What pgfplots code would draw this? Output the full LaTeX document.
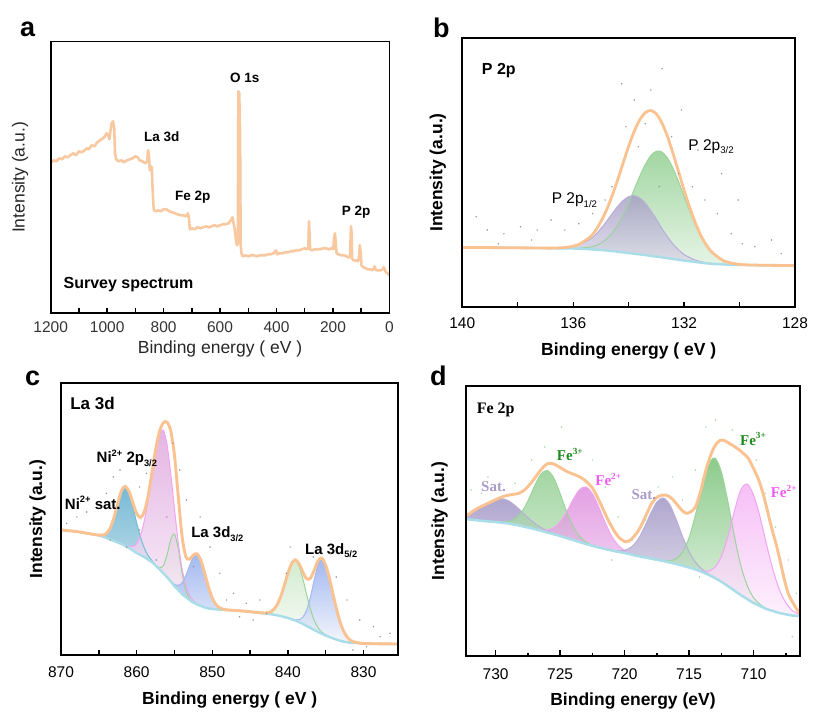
\documentclass[border=0pt]{standalone}
\usepackage{graphicx}
\usepackage{fontspec}
\setmainfont{Liberation Sans}
\newfontfamily\tms{Liberation Serif}
\usepackage{pgfplots}
\pgfplotsset{compat=1.18}
\usepackage{pgfplotstable}

% line colours
\definecolor{envc}{HTML}{FBC291}
\definecolor{survc}{HTML}{F8C8A0}
\definecolor{bkgc}{HTML}{A9DDE8}
% component colours (top of gradient / outline)
\definecolor{grnT}{HTML}{8ACC8A}
\definecolor{grnL}{HTML}{9AD49A}
\definecolor{purT}{HTML}{A59CC6}
\definecolor{purL}{HTML}{B8AED8}
\definecolor{tealT}{HTML}{55A8CA}
\definecolor{tealL}{HTML}{6CC0D2}
\definecolor{pinkT}{HTML}{DDA2DC}
\definecolor{pinkL}{HTML}{F2A4F2}
\definecolor{bluT}{HTML}{8CA7EC}
\definecolor{bluL}{HTML}{A4B8F0}
\definecolor{lgrT}{HTML}{C9E6C4}
\definecolor{satT}{HTML}{9C90C2}
\definecolor{fgrT}{HTML}{6FBE6F}
\definecolor{fpkT}{HTML}{DC88DC}
\definecolor{fpk2T}{HTML}{F4B0F4}
\definecolor{txtgrn}{HTML}{1F8A1F}
\definecolor{txtpink}{HTML}{F05AF0}
\definecolor{txtsat}{HTML}{A99CCB}
\definecolor{rawg}{HTML}{8A8A8A}
\definecolor{rawd}{HTML}{9CD39C}

\newcommand\fs[1]{\fontsize{#1}{#1}\selectfont}
\newcommand\subr[1]{\raisebox{-0.25em}{\scalebox{0.62}{#1}}}
\newcommand\supr[1]{\raisebox{0.42em}{\scalebox{0.62}{#1}}}

% binding energy runs right-to-left: the fitted panels plot -E
\pgfplotsset{
  xps/.style={
    scale only axis, anchor=south west, axis on top,
    axis line style={line width=1.8pt},
    tick align=inside, xtick pos=left, ytick=\empty,
    tick style={black, line width=1.4pt},
    major tick length=5pt, minor tick length=5pt,
    tick label style={font=\fs{15.5}},
    label style={font=\fs{17.5}},
    xticklabel style={anchor=center},
  },
  comp/.style 2 args={draw=none, smooth, top color=#1, bottom color=#2, fill opacity=0.8},
  cover/.style={draw=none, smooth, fill=white},
  raw/.style={only marks, mark=*, mark size=0.55pt, #1, opacity=0.75},
}

% P 2p fit: background and two components
\pgfplotstableread{
E B G1 G2
140 59.3 0 0
139 59.1 0 0
138 58.9 0 0
137 58.6 0 0
136.6 58.4 0.3 0
136.2 58.3 1.1 0.1
135.8 58.0 3.7 0.6
135.4 57.4 9.9 2.2
135.2 57.0 14.9 4.0
135.0 56.7 21.5 7.0
134.8 56.2 29.0 11.4
134.6 55.6 37.3 17.8
134.4 55.0 45.1 26.4
134.2 54.3 51.9 37.5
134.0 53.6 56.4 50.4
133.8 53.0 58.0 64.3
133.6 52.3 56.4 78.2
133.4 51.6 51.9 90.6
133.2 50.8 45.1 100.3
133.0 50.1 37.3 105.4
132.8 49.3 29.0 105.4
132.6 48.5 21.5 100.3
132.4 47.7 14.9 90.6
132.2 46.9 9.9 78.2
132.0 46.1 6.1 64.3
131.8 45.4 3.7 50.4
131.6 44.7 2.0 37.5
131.4 44.0 1.1 26.4
131.2 43.4 0.6 17.8
131.0 42.9 0.3 11.4
130.6 42.3 0 4.0
130.2 41.9 0 1.2
129.8 41.7 0 0.2
129.0 41.4 0 0
128.0 41.2 0 0
}\tabB

% P 2p raw counts
\pgfplotstableread{
E Y
132.8 238
133.2 216.7
133.8 206.7
134.1 180
133.4 183
132.45 170
132.2 133
131.7 120
131.25 106.7
130.8 93
130.3 73
129.9 63
129.45 60
128.85 66.7
128.5 53
134.6 120
134.85 106.7
135.3 93
135.8 83
136.3 76.7
136.8 86.7
137.3 76.7
137.9 80
138.5 73
139.1 76.7
139.5 90
138.7 63
137.5 66.7
132.9 120
133.65 160
132.1 196.7
134.25 223
131.5 156.7
130.65 133
130.05 106.7
}\rawB

% La 3d fit
\pgfplotstableread{
E B T P Gn Bl G5 B5
870 125 0 0 0 0 0 0
868 123.5 0 0 0 0 0 0
866 121 0 0 0 0 0 0
865.5 120.3 0.1 0 0 0 0 0
865 119.5 0.4 0 0 0 0 0
864.5 118.5 1.4 0 0 0 0 0
864 117 4.5 0 0 0 0 0
863.5 115.5 11.3 0 0 0 0 0
863 114 23.3 0 0 0 0 0
862.5 112.5 39.0 0 0 0 0 0
862 111 53.2 0.2 0 0 0 0
861.5 109 59 0.56 0 0 0 0
861 107 54.8 1.6 0 0 0 0
860.5 104.5 43.9 4.1 0 0 0 0
860 102 30.3 9.4 0 0 0 0
859.5 100 18.1 19.3 0 0 0 0
859 98 9.3 35.6 0 0 0 0
858.5 95.5 4.1 58.8 0 0 0 0
858 93 1.6 86.8 0 0 0 0
857.5 89.5 0.5 114.5 0.2 0 0 0
857 86 0.15 135.3 1.5 0 0 0
856.5 82 0 143 7.0 0 0 0
856 78 0 133.5 21.4 0.1 0 0
855.5 73.5 0 108.7 41.6 0.5 0 0
855 69 0 77.2 52 1.7 0 0
854.5 65 0 47.8 41.6 4.7 0 0
854 61 0 25.7 21.4 11.0 0 0
853.5 58 0 12.1 7.0 21.4 0 0
853 55 0 5.0 1.5 34.3 0 0
852.5 52.5 0 1.8 0.2 45.5 0 0
852 50.5 0 0.6 0 50 0 0
851.5 49 0 0.15 0 45.5 0 0
851 47.5 0 0 0 34.3 0 0
850.5 46.5 0 0 0 21.4 0 0
850 46 0 0 0 11.0 0 0
849.5 45.7 0 0 0 4.7 0 0
849 45.4 0 0 0 1.7 0 0
848.5 45.2 0 0 0 0.5 0 0
848 45 0 0 0 0.1 0 0
846 44 0 0 0 0 0 0
844 42.5 0 0 0 0 0 0
843.5 42 0 0 0 0 0.15 0
843 41.5 0 0 0 0 0.5 0
842.5 41 0 0 0 0 1.6 0
842 40.5 0 0 0 0 4.2 0
841.5 39.8 0 0 0 0 9.4 0
841 39 0 0 0 0 18.4 0
840.5 38 0 0 0 0 30.8 0
840 37 0 0 0 0 44.6 0
839.5 35.8 0 0 0 0 55.7 0.15
839 34.5 0 0 0 0 60 0.7
838.5 32.8 0 0 0 0 55.7 2.5
838 31 0 0 0 0 44.6 7.0
837.5 29 0 0 0 0 30.8 16.3
837 27 0 0 0 0 18.4 31.6
836.5 25 0 0 0 0 9.4 50.7
836 23 0 0 0 0 4.2 67.3
835.5 21.2 0 0 0 0 1.6 74
835 19.5 0 0 0 0 0.5 69.7
834.5 18 0 0 0 0 0.15 58.3
834 16.5 0 0 0 0 0 43.4
833.5 15.2 0 0 0 0 0 28.6
833 14 0 0 0 0 0 16.7
832.5 13.2 0 0 0 0 0 8.7
832 12.5 0 0 0 0 0 4.0
831.5 12.2 0 0 0 0 0 1.6
831 12 0 0 0 0 0 0.6
830.5 11.8 0 0 0 0 0 0.2
830 11.5 0 0 0 0 0 0
828 11.2 0 0 0 0 0 0
825.4 11 0 0 0 0 0 0
}\tabC

% La 3d raw counts
\pgfplotstableread{
E Y
869.25 131.7
867.9 138
866.6 143
864 161.7
863.1 178
862.2 185
859.6 168
858.7 181.7
858.2 195
855.2 211.7
854.3 185
853.4 155
851.6 138
850.3 108
849 81.7
847.2 61.7
845.5 51.7
843.7 55
842.8 41.7
840.2 81.7
839.7 108
836.65 98
834.4 101.7
833.6 78
832.2 55
830.5 35
828.7 28.3
827.8 18.3
826.5 21.7
829.6 8.3
831.4 5
844.6 35
846.4 38.3
848.1 55
852.5 88.3
856 138
857.4 95
859.6 125
861.3 108
863.5 115
}\rawC

% Fe 2p fit components
\pgfplotstableread{
E B S1 F3a F2a S2 F3b F2b
732.3 137 4.2 0 0 0 0 0
732 136.5 6.0 0 0 0 0 0
731.5 135.8 9.9 0 0 0 0 0
731 135 14.6 0 0 0 0 0
730.5 134.5 19.2 0 0 0 0 0
730 134 22.7 0.15 0 0 0 0
729.5 133.3 24 0.6 0 0 0 0
729 132.5 22.7 2.1 0 0 0 0
728.5 131.3 19.2 5.8 0 0 0 0
728 130 14.6 13.6 0 0 0 0
727.5 128.5 9.9 26.5 0 0 0 0
727 127 6.0 42.5 0.2 0 0 0
726.5 125.3 3.2 56.4 0.8 0 0 0
726 123.5 1.6 62 2.5 0 0 0
725.5 121.8 0.7 56.4 6.5 0 0 0
725 120 0.3 42.5 14.2 0 0 0
724.5 118 0.1 26.5 26.1 0 0 0
724 116 0 13.6 40.3 0 0 0
723.5 114 0 5.8 52.3 0 0 0
723 112 0 2.1 57 0 0 0
722.5 110.2 0 0.6 52.3 0 0 0
722 108.5 0 0.15 40.3 0 0 0
721.5 107 0 0 26.1 0 0 0
721 105.5 0 0 14.2 0.25 0 0
720.5 104.2 0 0 6.5 0.9 0 0
720 103 0 0 2.5 2.8 0 0
719.5 101.5 0 0 0.8 7.2 0 0
719 100 0 0 0.2 15.7 0 0
718.5 98.7 0 0 0 28.9 0 0
718 97.5 0 0 0 44.5 0 0
717.5 96.2 0 0 0 57.8 0.1 0
717 95 0 0 0 63 0.5 0
716.5 93.5 0 0 0 57.8 1.7 0
716 92 0 0 0 44.5 5.3 0
715.5 90.3 0 0 0 28.9 13.7 0
715 88.5 0 0 0 15.7 29.9 0
714.5 86.5 0 0 0 7.2 55 0.3
714 84 0 0 0 2.8 84.8 1.1
713.5 81.2 0 0 0 0.9 110 3.8
713 78 0 0 0 0.25 120 10.8
712.5 74.2 0 0 0 0 110 25.3
712 70 0 0 0 0 84.8 49.1
711.5 65.5 0 0 0 0 55 78.8
711 61 0 0 0 0 29.9 104.7
710.5 57 0 0 0 0 13.7 115
710 53 0 0 0 0 5.3 107.9
709.5 50 0 0 0 0 1.7 89.1
709 47 0 0 0 0 0.5 64.7
708.5 45 0 0 0 0 0.1 41.4
708 43 0 0 0 0 0 23.3
707.5 41.7 0 0 0 0 0 11.6
707 40.5 0 0 0 0 0 5.0
706.5 40.1 0 0 0 0 0 1.9
706.4 40 0 0 0 0 0 1.6
}\tabD

% Fe 2p fitted envelope
\pgfplotstableread{
E Y
732.3 140
731.5 147
730.6 152.7
729.8 157.5
729.3 160
728.7 161.5
728.2 162.7
727.7 166.7
727.2 174
726.7 182.7
726.3 189
725.9 192.7
725.4 191.5
724.9 187.7
724.4 184
723.8 181
723.4 178.5
723.1 176
722.5 168
722.0 156
721.5 142
721.0 129.3
720.5 119.5
719.95 114.3
719.5 116.5
718.9 126
718.4 139
717.9 152.7
717.4 159.5
716.8 161
716.3 157
715.8 149.3
715.5 145
715.2 142.7
714.9 144
714.5 149.3
714.1 165
713.7 186
713.2 205
712.8 213.5
712.4 216
711.8 212
711.1 206
710.4 197.7
710.2 192.7
709.6 176
709.2 159.3
708.6 128
708.2 109.3
707.4 66
706.8 50
706.4 42
}\tabDenv

% Fe 2p raw counts
\pgfplotstableread{
E Y
731.1 162.7
730.6 179
731.9 166
728.5 172.7
727.2 196
726.2 209
724.9 229
723.6 202.7
722.5 196
721.5 169
720.5 139
719.4 116
718.4 136
717.4 169
716.3 179
715.5 156
714.5 186
713.7 229
712.95 236
711.65 226
710.6 212.7
709.8 196
709.1 162.7
708.3 129
707.3 96
706.7 62.7
707.0 19.3
721 96
717.4 109
714.2 79
}\rawD

\begin{document}
\begin{tikzpicture}
\path[use as bounding box] (0,0) rectangle (813pt,713pt);

% ---------------- (a) survey spectrum ----------------
\begin{axis}[xps, x dir=reverse, at={(50.7pt,399.7pt)}, width=338.7pt, height=271.7pt,
  xmin=0, xmax=1200, ymin=0, ymax=271.7,
  xtick={0,200,400,600,800,1000,1200},
  xticklabels={0,200,400,600,800,1000,1200},
  minor xtick={100,300,500,700,900,1100},
  xticklabel style={yshift=-13.7pt, text=black!80},
  xlabel={Binding energy ( eV )}, ylabel={Intensity (a.u.)},
  xlabel style={at={(axis description cs:0.5,-0.133)}, anchor=center, text=black!85},
  ylabel style={at={(axis description cs:-0.0906,0.5)}, anchor=center, text=black!85},
]
\addplot[survc, line width=2.6pt, line join=round] coordinates {
(1198,151) (1190,153) (1180,152) (1170,155) (1160,154) (1150,157) (1140,156)
(1130,158) (1120,160) (1110,158) (1100,162) (1090,161) (1080,163) (1072,165)
(1065,164) (1055,168) (1045,167) (1035,171) (1025,173) (1015,175) (1008,177)
(1002,180) (996,178) (992,174) (988,183) (984,190) (979,192) (975,185)
(972,160) (968,154) (960,152) (950,153) (940,151) (930,153) (920,154)
(910,155) (900,157) (892,156) (885,153) (875,152) (865,150) (858,152)
(855,163) (852,158) (849,143) (845,147) (842,146) (839,125) (836,108)
(834,103) (828,102) (820,103) (810,102) (800,104) (790,104) (780,102)
(770,101) (760,100) (750,99) (740,98) (730,98) (720,97) (714,100) (710,95)
(707,84) (700,85) (690,84) (680,86) (670,85) (660,86) (650,87) (640,86)
(630,87) (620,88) (610,87) (600,88) (590,89) (580,89) (570,90) (562,93)
(556,96) (552,90) (548,84) (543,72) (540,68) (537,70) (535,222) (532,220)
(529,180) (527,68) (524,60) (520,57) (510,58) (500,57) (490,58) (480,58)
(470,57) (460,58) (450,58) (440,58) (430,59) (420,59) (410,60) (402,63)
(397,59) (390,60) (380,60) (370,61) (360,61) (350,62) (340,62) (330,63)
(320,63) (310,64) (300,65) (292,64) (287,66) (285,92) (283,80) (281,64)
(275,63) (265,64) (255,64) (245,64) (235,65) (225,65) (215,64) (205,65)
(199,64) (196,75) (193,80) (190,70) (187,60) (180,59) (170,58) (160,58)
(152,57) (146,56) (140,56) (138,70) (136,87) (134,80) (132,55) (128,53)
(120,53) (112,52) (108,55) (105,68) (102,62) (99,48) (92,46) (84,45)
(76,44) (68,44) (60,43) (55,45) (52,47) (49,44) (45,43) (38,43) (30,43)
(24,44) (20,46) (17,44) (12,41) (6,40) (0,38)};
\node[font=\fs{13.5}\bfseries] at (axis cs:512.6,235) {O 1s};
\node[font=\fs{13.5}\bfseries] at (axis cs:806.7,176.7) {La 3d};
\node[font=\fs{13.5}\bfseries] at (axis cs:696.9,116) {Fe 2p};
\node[font=\fs{13.5}\bfseries] at (axis cs:118.1,100.7) {P 2p};
\node[font=\fs{16}\bfseries, anchor=west, inner sep=0pt] at (axis cs:1155,28.3) {Survey spectrum};
\end{axis}

% ---------------- (b) P 2p ----------------
\begin{axis}[xps, at={(462.3pt,406.3pt)}, width=332.7pt, height=268.3pt,
  xmin=-140, xmax=-128, ymin=0, ymax=268.3,
  xtick={-140,-136,-132,-128}, xticklabels={140,136,132,128},
  minor xtick={-138,-134,-130},
  xticklabel style={yshift=-16.3pt},
  label style={font=\fs{17.5}\bfseries},
  xlabel={Binding energy ( eV )}, ylabel={Intensity (a.u.)},
  xlabel style={at={(axis description cs:0.5,-0.166)}, anchor=center},
  ylabel style={at={(axis description cs:-0.0736,0.5)}, anchor=center},
]
\addplot[comp={grnT}{white}, restrict x to domain=-136.2:-129.8] table[x expr=-\thisrow{E}, y expr=\thisrow{B}+\thisrow{G2}] {\tabB} \closedcycle;
\addplot[comp={purT}{white}, restrict x to domain=-137:-130.6] table[x expr=-\thisrow{E}, y expr=\thisrow{B}+\thisrow{G1}] {\tabB} \closedcycle;
\addplot[cover] table[x expr=-\thisrow{E}, y=B] {\tabB} \closedcycle;
\addplot[raw=rawg] table[x expr=-\thisrow{E}, y=Y] {\rawB};
\addplot[grnL, line width=1pt, smooth] table[x expr=-\thisrow{E}, y expr=\thisrow{B}+\thisrow{G2}] {\tabB};
\addplot[purL, line width=1pt, smooth] table[x expr=-\thisrow{E}, y expr=\thisrow{B}+\thisrow{G1}] {\tabB};
\addplot[bkgc, line width=2.4pt, smooth] table[x expr=-\thisrow{E}, y=B] {\tabB};
\addplot[envc, line width=2.8pt, smooth] table[x expr=-\thisrow{E}, y expr=\thisrow{B}+\thisrow{G1}+\thisrow{G2}] {\tabB};
\node[font=\fs{16}\bfseries, anchor=west, inner sep=0pt] at (axis cs:-139.3,235.7) {P 2p};
\node[font=\fs{15.5}, anchor=west, inner sep=0pt] at (axis cs:-131.85,160) {P 2p\subr{3/2}};
\node[font=\fs{15.5}, anchor=west, inner sep=0pt] at (axis cs:-136.78,106.7) {P 2p\subr{1/2}};
\end{axis}

% ---------------- (c) La 3d ----------------
\begin{axis}[xps, at={(61pt,58pt)}, width=337.3pt, height=271.7pt,
  xmin=-870, xmax=-825.4, ymin=0, ymax=271.7,
  xtick={-870,-860,-850,-840,-830}, xticklabels={870,860,850,840,830},
  minor xtick={-865,-855,-845,-835},
  xticklabel style={yshift=-17.5pt},
  label style={font=\fs{17.5}\bfseries},
  xlabel={Binding energy ( eV )}, ylabel={Intensity (a.u.)},
  xlabel style={at={(axis description cs:0.5,-0.165)}, anchor=center},
  ylabel style={at={(axis description cs:-0.0697,0.5)}, anchor=center},
]
\addplot[comp={tealT}{white}, restrict x to domain=-865.5:-857] table[x expr=-\thisrow{E}, y expr=\thisrow{B}+\thisrow{T}] {\tabC} \closedcycle;
\addplot[comp={lgrT}{white}, restrict x to domain=-857.5:-852.5] table[x expr=-\thisrow{E}, y expr=\thisrow{B}+\thisrow{Gn}] {\tabC} \closedcycle;
\addplot[comp={pinkT}{white}, restrict x to domain=-862:-851] table[x expr=-\thisrow{E}, y expr=\thisrow{B}+\thisrow{P}] {\tabC} \closedcycle;
\addplot[comp={bluT}{white}, restrict x to domain=-856:-848] table[x expr=-\thisrow{E}, y expr=\thisrow{B}+\thisrow{Bl}] {\tabC} \closedcycle;
\addplot[comp={lgrT}{white}, restrict x to domain=-843.5:-834.5] table[x expr=-\thisrow{E}, y expr=\thisrow{B}+\thisrow{G5}] {\tabC} \closedcycle;
\addplot[comp={bluT}{white}, restrict x to domain=-839.5:-830.5] table[x expr=-\thisrow{E}, y expr=\thisrow{B}+\thisrow{B5}] {\tabC} \closedcycle;
\addplot[cover] table[x expr=-\thisrow{E}, y=B] {\tabC} \closedcycle;
\addplot[raw=rawg] table[x expr=-\thisrow{E}, y=Y] {\rawC};
\addplot[tealL, line width=1pt, smooth] table[x expr=-\thisrow{E}, y expr=\thisrow{B}+\thisrow{T}] {\tabC};
\addplot[grnL, line width=1pt, smooth] table[x expr=-\thisrow{E}, y expr=\thisrow{B}+\thisrow{Gn}] {\tabC};
\addplot[pinkL, line width=1pt, smooth] table[x expr=-\thisrow{E}, y expr=\thisrow{B}+\thisrow{P}] {\tabC};
\addplot[bluL, line width=1pt, smooth] table[x expr=-\thisrow{E}, y expr=\thisrow{B}+\thisrow{Bl}] {\tabC};
\addplot[grnL, line width=1pt, smooth] table[x expr=-\thisrow{E}, y expr=\thisrow{B}+\thisrow{G5}] {\tabC};
\addplot[bluL, line width=1pt, smooth] table[x expr=-\thisrow{E}, y expr=\thisrow{B}+\thisrow{B5}] {\tabC};
\addplot[bkgc, line width=2.4pt, smooth] table[x expr=-\thisrow{E}, y=B] {\tabC};
\addplot[envc, line width=2.9pt, smooth] table[x expr=-\thisrow{E}, y expr=\thisrow{B}+\thisrow{T}+\thisrow{P}+\thisrow{Gn}+\thisrow{Bl}+\thisrow{G5}+\thisrow{B5}] {\tabC};
\node[font=\fs{17}\bfseries, anchor=west, inner sep=0pt] at (axis cs:-868.8,251.7) {La 3d};
\node[font=\fs{15}\bfseries, anchor=west, inner sep=0pt] at (axis cs:-865.3,196.7) {Ni\supr{2+} 2p\subr{3/2}};
\node[font=\fs{15}\bfseries, anchor=west, inner sep=0pt] at (axis cs:-869.5,152.3) {Ni\supr{2+} sat.};
\node[font=\fs{15}\bfseries, anchor=west, inner sep=0pt] at (axis cs:-852.8,121) {La 3d\subr{3/2}};
\node[font=\fs{15}\bfseries, anchor=west, inner sep=0pt] at (axis cs:-837.75,104.3) {La 3d\subr{5/2}};
\end{axis}

% ---------------- (d) Fe 2p ----------------
\begin{axis}[xps, at={(466pt,57pt)}, width=334pt, height=270pt,
  xmin=-732.3, xmax=-706.4, ymin=0, ymax=270,
  xtick={-730,-725,-720,-715,-710}, xticklabels={730,725,720,715,710},
  minor xtick={-727.5,-722.5,-717.5,-712.5,-707.5},
  major tick length=6pt, minor tick length=3pt,
  xticklabel style={yshift=-18pt},
  label style={font=\fs{17.5}\bfseries},
  xlabel={Binding energy (eV)}, ylabel={Intensity (a.u.)},
  xlabel style={at={(axis description cs:0.5,-0.165)}, anchor=center},
  ylabel style={at={(axis description cs:-0.0787,0.5)}, anchor=center},
]
\addplot[comp={satT}{white}, restrict x to domain=-732.3:-724.5] table[x expr=-\thisrow{E}, y expr=\thisrow{B}+\thisrow{S1}] {\tabD} \closedcycle;
\addplot[comp={fgrT!80}{white}, restrict x to domain=-730:-722] table[x expr=-\thisrow{E}, y expr=\thisrow{B}+\thisrow{F3a}] {\tabD} \closedcycle;
\addplot[comp={fpkT}{white}, restrict x to domain=-727:-719] table[x expr=-\thisrow{E}, y expr=\thisrow{B}+\thisrow{F2a}] {\tabD} \closedcycle;
\addplot[comp={satT}{white}, restrict x to domain=-721:-713] table[x expr=-\thisrow{E}, y expr=\thisrow{B}+\thisrow{S2}] {\tabD} \closedcycle;
\addplot[comp={fgrT}{white}, restrict x to domain=-717.5:-708.5] table[x expr=-\thisrow{E}, y expr=\thisrow{B}+\thisrow{F3b}] {\tabD} \closedcycle;
\addplot[comp={fpk2T}{white}, restrict x to domain=-714.5:-706.4] table[x expr=-\thisrow{E}, y expr=\thisrow{B}+\thisrow{F2b}] {\tabD} \closedcycle;
\addplot[cover] table[x expr=-\thisrow{E}, y=B] {\tabD} \closedcycle;
\addplot[raw=rawd] table[x expr=-\thisrow{E}, y=Y] {\rawD};
\addplot[purL, line width=1pt, smooth] table[x expr=-\thisrow{E}, y expr=\thisrow{B}+\thisrow{S1}] {\tabD};
\addplot[grnL, line width=1pt, smooth] table[x expr=-\thisrow{E}, y expr=\thisrow{B}+\thisrow{F3a}] {\tabD};
\addplot[pinkL, line width=1pt, smooth] table[x expr=-\thisrow{E}, y expr=\thisrow{B}+\thisrow{F2a}] {\tabD};
\addplot[purL, line width=1pt, smooth] table[x expr=-\thisrow{E}, y expr=\thisrow{B}+\thisrow{S2}] {\tabD};
\addplot[grnL, line width=1pt, smooth] table[x expr=-\thisrow{E}, y expr=\thisrow{B}+\thisrow{F3b}] {\tabD};
\addplot[pinkL, line width=1pt, smooth] table[x expr=-\thisrow{E}, y expr=\thisrow{B}+\thisrow{F2b}] {\tabD};
\addplot[bkgc, line width=2.5pt, smooth] table[x expr=-\thisrow{E}, y=B] {\tabD};
\addplot[envc, line width=2.9pt, smooth] table[x expr=-\thisrow{E}, y=Y] {\tabDenv};
\node[font=\fs{16}\tms\bfseries, anchor=west, inner sep=0pt] at (axis cs:-731.48,246) {Fe 2p};
\node[font=\fs{15}\tms\bfseries, anchor=west, inner sep=0pt, text=txtgrn] at (axis cs:-725.26,201.7) {Fe\supr{3+}};
\node[font=\fs{15}\tms\bfseries, anchor=west, inner sep=0pt, text=txtpink] at (axis cs:-722.28,176.7) {Fe\supr{2+}};
\node[font=\fs{15}\tms\bfseries, anchor=west, inner sep=0pt, text=txtsat] at (axis cs:-731.14,169.3) {Sat.};
\node[font=\fs{15}\tms\bfseries, anchor=west, inner sep=0pt, text=txtsat] at (axis cs:-719.48,161) {Sat.};
\node[font=\fs{15}\tms\bfseries, anchor=west, inner sep=0pt, text=txtgrn] at (axis cs:-711.06,217) {Fe\supr{3+}};
\node[font=\fs{15}\tms\bfseries, anchor=west, inner sep=0pt, text=txtpink] at (axis cs:-708.68,164.7) {Fe\supr{2+}};
\end{axis}

% panel letters
\node[font=\fs{27}\bfseries, anchor=base west, inner sep=0pt] at (20pt,676.3pt) {a};
\node[font=\fs{27}\bfseries, anchor=base west, inner sep=0pt] at (433pt,675.7pt) {b};
\node[font=\fs{27}\bfseries, anchor=base west, inner sep=0pt] at (25pt,328pt) {c};
\node[font=\fs{27}\bfseries, anchor=base west, inner sep=0pt] at (430pt,328pt) {d};
\end{tikzpicture}
\end{document}
